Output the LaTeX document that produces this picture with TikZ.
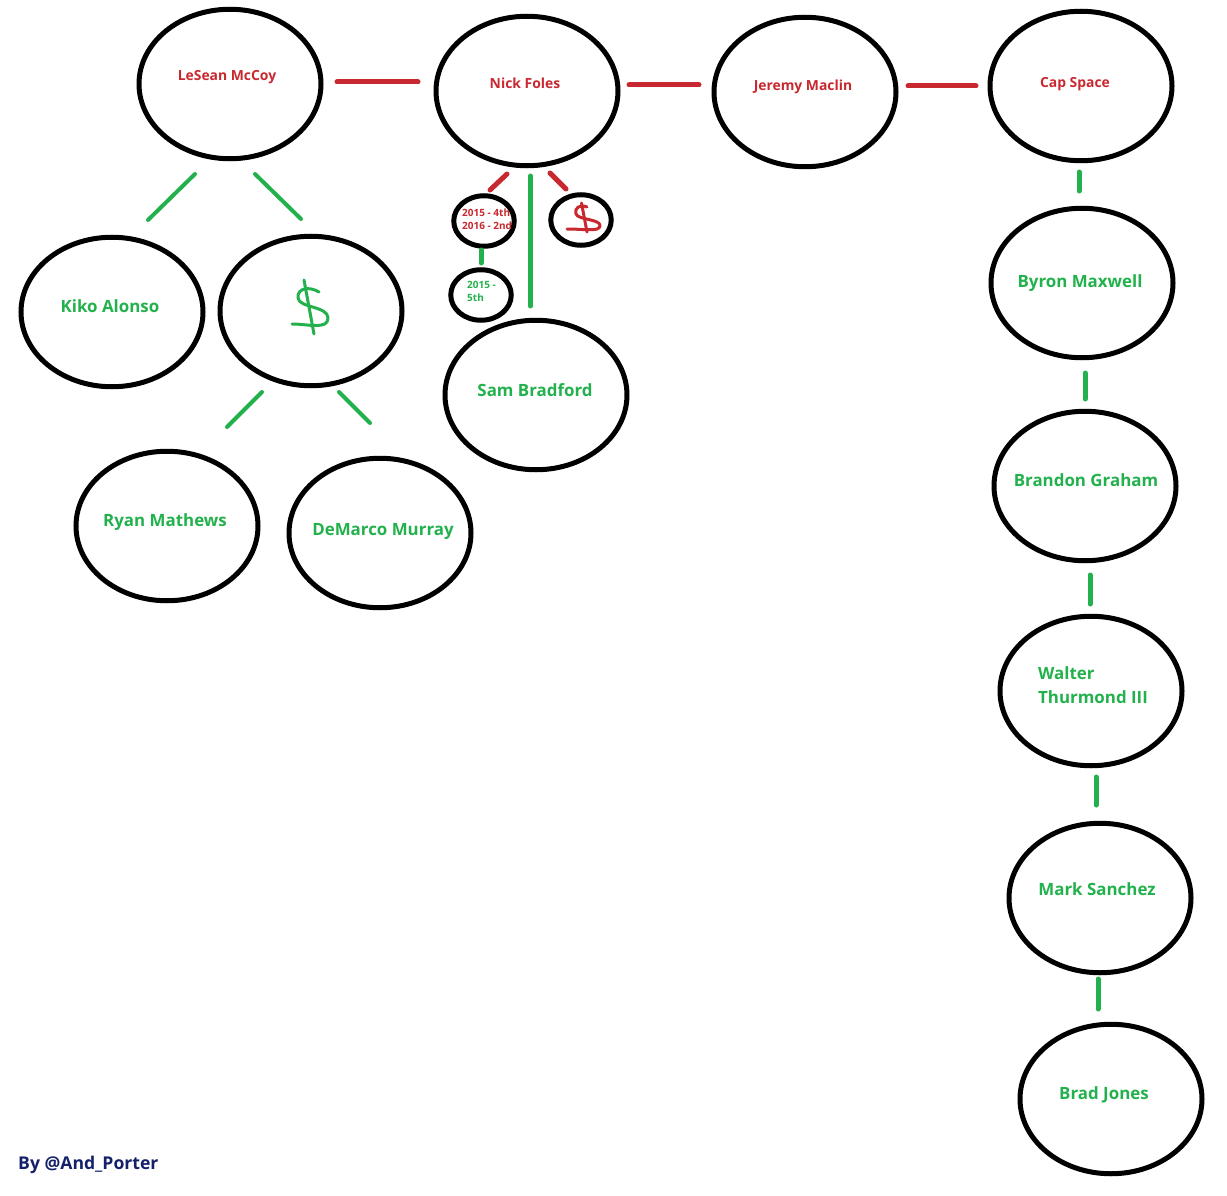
\documentclass[tikz,border=0pt]{standalone}
\usepackage{fontspec}
\setmainfont{Open Sans}
\usetikzlibrary{shapes.geometric}
\definecolor{pred}{HTML}{C8282F}
\definecolor{pgreen}{HTML}{22B14C}
\definecolor{pnavy}{HTML}{14206A}
\tikzset{
  bubble/.style={draw=black,line width=5pt,ellipse,minimum width=182pt,minimum height=149.5pt,inner sep=0pt},
  tiny bubble/.style={draw=black,line width=5pt,ellipse,minimum width=60.5pt,minimum height=50.5pt,inner sep=0pt},
  redlab/.style={text=pred,font=\bfseries\fontsize{13.9}{16}\selectfont,inner sep=0pt},
  greenlab/.style={text=pgreen,font=\bfseries\fontsize{16.9}{24}\selectfont,inner sep=0pt},
  redsmall/.style={text=pred,font=\bfseries\fontsize{10}{13}\selectfont,inner sep=0pt,align=left,anchor=west},
  greensmall/.style={text=pgreen,font=\bfseries\fontsize{10}{13}\selectfont,inner sep=0pt,align=left,anchor=west},
  redlink/.style={draw=pred,line width=5pt,line cap=round},
  greenlink/.style={draw=pgreen,line width=5pt,line cap=round},
  thinlink/.style={draw=pgreen,line width=4pt,line cap=round},
  greenpen/.style={draw=pgreen,line width=3pt,line cap=round,line join=round},
  redpen/.style={draw=pred,line width=3pt,line cap=round,line join=round}
}
\begin{document}
\begin{tikzpicture}[x=1pt,y=-1pt]
\useasboundingbox (0,0) rectangle (1227,1196);
% bubbles
\node[bubble] (mccoy) at (230,84) {};
\node[bubble] (foles) at (527,91) {};
\node[bubble] (maclin) at (805,92) {};
\node[bubble] (cap) at (1081,86) {};
\node[bubble] (kiko) at (112,312) {};
\node[bubble] (cash) at (311,311) {};
\node[bubble] (ryan) at (167,526) {};
\node[bubble] (murray) at (380,533) {};
\node[bubble] (sam) at (536,395) {};
\node[bubble] (byron) at (1082,283) {};
\node[bubble] (brandon) at (1085,486) {};
\node[bubble] (walter) at (1091,691) {};
\node[bubble] (mark) at (1100,898) {};
\node[bubble] (brad) at (1111,1099) {};
\node[tiny bubble] (picks) at (484,221) {};
\node[tiny bubble] (smallcash) at (581,220) {};
\node[tiny bubble] (fifth) at (481,295) {};
% labels
\node[redlab] (t1) at (227,77) {LeSean McCoy};
\node[redlab] (t2) at (525,83) {Nick Foles};
\node[redlab] (t3) at (803,87) {Jeremy Maclin};
\node[redlab] (t4) at (1075,84) {Cap Space};
\node[greenlab] (t5) at (110,306) {Kiko Alonso};
\node[greenlab] (t6) at (165,522) {Ryan Mathews};
\node[greenlab] (t7) at (383,531) {DeMarco Murray};
\node[greenlab] (t8) at (535,390) {Sam Bradford};
\node[greenlab] (t9) at (1080,283) {Byron Maxwell};
\node[greenlab] (t10) at (1086,480) {Brandon Graham};
\node[greenlab,align=left,anchor=west] (t11) at (1038,685) {Walter\\Thurmond III};
\node[greenlab] (t12) at (1097,889) {Mark Sanchez};
\node[greenlab] (t13) at (1104,1095) {Brad Jones};
\node[redsmall] (t14) at (462,219.5) {2015 - 4th\\2016 - 2nd};
\node[greensmall] (t15) at (467,291.5) {2015 -\\5th};
\node[anchor=west,inner sep=0pt,text=pnavy,font=\bfseries\fontsize{17.6}{20}\selectfont] (credit) at (18,1165) {By @And\_Porter};
% connector ends
\coordinate (a1) at (337,82); \coordinate (a2) at (418,82);
\coordinate (b1) at (629,85); \coordinate (b2) at (699,85);
\coordinate (c1) at (908,86); \coordinate (c2) at (976,86);
\coordinate (d1) at (507,174); \coordinate (d2) at (490,190);
\coordinate (e1) at (550,173); \coordinate (e2) at (566,189);
\coordinate (f1) at (481,250); \coordinate (f2) at (481,263);
\coordinate (g1) at (530.5,176); \coordinate (g2) at (530.5,306);
\coordinate (h1) at (195,174); \coordinate (h2) at (148,220);
\coordinate (i1) at (255,174); \coordinate (i2) at (301,219);
\coordinate (j1) at (262,392); \coordinate (j2) at (227,427);
\coordinate (k1) at (339,392); \coordinate (k2) at (370,423);
\coordinate (l1) at (1079,172); \coordinate (l2) at (1079,191);
\coordinate (m1) at (1085,373); \coordinate (m2) at (1085,399);
\coordinate (n1) at (1090,575); \coordinate (n2) at (1090,604);
\coordinate (o1) at (1096,777); \coordinate (o2) at (1096,805);
\coordinate (p1) at (1098,979); \coordinate (p2) at (1098,1009);
% connectors
\draw[redlink] (a1) -- (a2);
\draw[redlink] (b1) -- (b2);
\draw[redlink] (c1) -- (c2);
\draw[redlink] (d1) -- (d2);
\draw[redlink] (e1) -- (e2);
\draw[greenlink] (f1) -- (f2);
\draw[greenlink] (g1) -- (g2);
\draw[thinlink] (h1) -- (h2);
\draw[thinlink] (i1) -- (i2);
\draw[thinlink] (j1) -- (j2);
\draw[thinlink] (k1) -- (k2);
\draw[greenlink] (l1) -- (l2);
\draw[greenlink] (m1) -- (m2);
\draw[greenlink] (n1) -- (n2);
\draw[greenlink] (o1) -- (o2);
\draw[greenlink] (p1) -- (p2);
% hand-drawn dollar signs
\draw[greenpen] (304,280) -- (314,334);
\draw[greenpen] (319,292) .. controls (309,286) and (297,288) .. (298,298)
  .. controls (299,308) and (328,306) .. (328,318)
  .. controls (328,330) and (308,324) .. (292,324);
\draw[redpen] (581.5,203) -- (587,232);
\draw[redpen] (587,207) .. controls (580,204) and (574,208) .. (576,214)
  .. controls (578,220) and (601,219) .. (600,226)
  .. controls (599,232) and (585,229) .. (567,229);
\end{tikzpicture}
\end{document}
